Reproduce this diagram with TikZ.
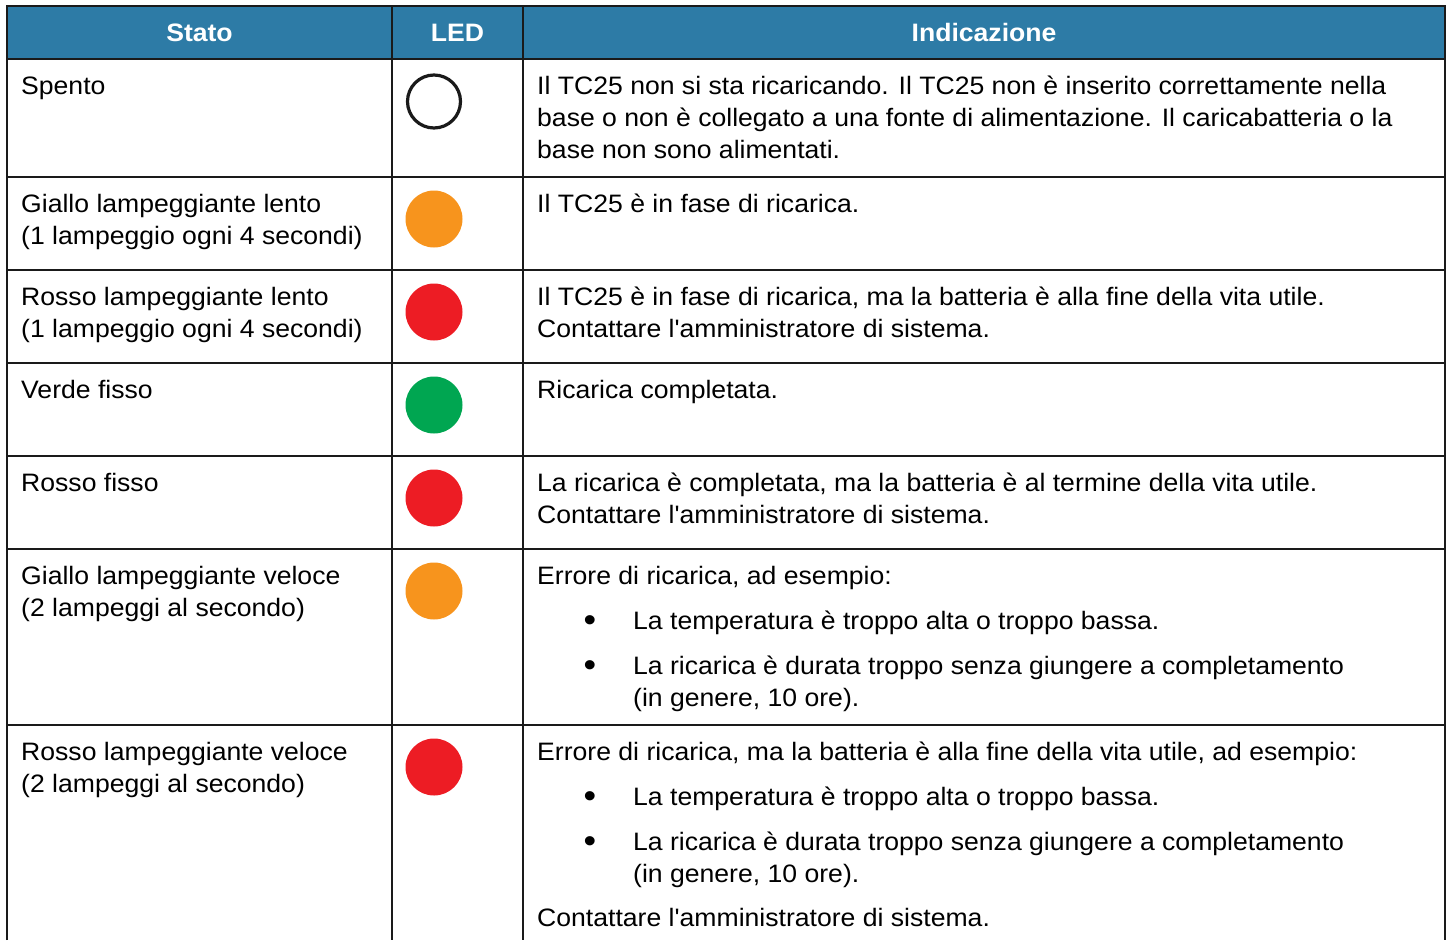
\documentclass[tikz,border=0pt]{standalone}
\usepackage{fontspec}
\newfontfamily\arialf{Liberation Sans}[FakeStretch=1.055]
\definecolor{hdr}{RGB}{45,123,166}
\definecolor{grid}{RGB}{26,26,26}
\definecolor{ledorange}{RGB}{247,148,29}
\definecolor{ledred}{RGB}{237,28,36}
\definecolor{ledgreen}{RGB}{0,166,81}
\tikzset{
  txt/.style={anchor=base west, inner sep=0pt, font=\arialf\fontsize{25.2}{32}\selectfont, text=black, yshift=-1pt},
  hd/.style={anchor=base, inner sep=0pt, font=\arialf\fontsize{25.2}{32}\selectfont\bfseries, text=white},
  blt/.style={anchor=base, inner sep=0pt, font=\arialf\fontsize{34}{32}\selectfont, text=black, yshift=-1pt},
  gridline/.style={draw=grid, line width=1.4pt},
  led/.style={circle, minimum size=57pt, inner sep=0pt},
}
\begin{document}
\begin{tikzpicture}[x=1pt,y=-1pt]
\useasboundingbox (0,0) rectangle (1448,940);
% header
\fill[hdr] (7,6) rectangle (1445,59);
% grid
\draw[gridline] (7,940) -- (7,6) -- (1445,6) -- (1445,940);
\foreach \yy in {59,177,270,363,456,549,725}
  \draw[gridline] (7,\yy) -- (1445,\yy);
\draw[gridline] (392,6) -- (392,940);
\draw[gridline] (523,6) -- (523,940);
% header text
\node[hd] (h1) at (199.5,41) {Stato};
\node[hd] (h2) at (457.5,41) {LED};
\node[hd] (h3) at (984,41) {Indicazione};
% LEDs
\node[led, draw=grid, line width=3.2pt, minimum size=53pt] (l1) at (434,101.5) {};
\node[led, fill=ledorange] (l2) at (434,219) {};
\node[led, fill=ledred] (l3) at (434,312) {};
\node[led, fill=ledgreen] (l4) at (434,405) {};
\node[led, fill=ledred] (l5) at (434,498) {};
\node[led, fill=ledorange] (l6) at (434,591) {};
\node[led, fill=ledred] (l7) at (434,767) {};
% row 1
\node[txt] (s1) at (21,93) {Spento};
\node[txt] (d1a) at (537,93) {Il TC25 non si sta ricaricando. Il TC25 non è inserito correttamente nella};
\node[txt] (d1b) at (537,125) {base o non è collegato a una fonte di alimentazione. Il caricabatteria o la};
\node[txt] (d1c) at (537,157) {base non sono alimentati.};
% row 2
\node[txt] (s2a) at (21,211) {Giallo lampeggiante lento};
\node[txt] (s2b) at (21,243) {(1 lampeggio ogni 4 secondi)};
\node[txt] (d2) at (537,211) {Il TC25 è in fase di ricarica.};
% row 3
\node[txt] (s3a) at (21,304) {Rosso lampeggiante lento};
\node[txt] (s3b) at (21,336) {(1 lampeggio ogni 4 secondi)};
\node[txt] (d3a) at (537,304) {Il TC25 è in fase di ricarica, ma la batteria è alla fine della vita utile.};
\node[txt] (d3b) at (537,336) {Contattare l'amministratore di sistema.};
% row 4
\node[txt] (s4) at (21,397) {Verde fisso};
\node[txt] (d4) at (537,397) {Ricarica completata.};
% row 5
\node[txt] (s5) at (21,490) {Rosso fisso};
\node[txt] (d5a) at (537,490) {La ricarica è completata, ma la batteria è al termine della vita utile.};
\node[txt] (d5b) at (537,522) {Contattare l'amministratore di sistema.};
% row 6
\node[txt] (s6a) at (21,583) {Giallo lampeggiante veloce};
\node[txt] (s6b) at (21,615) {(2 lampeggi al secondo)};
\node[txt] (d6a) at (537,583) {Errore di ricarica, ad esempio:};
\node[blt] (b6a) at (590,630) {•};
\node[txt] (d6b) at (633,628) {La temperatura è troppo alta o troppo bassa.};
\node[blt] (b6b) at (590,675) {•};
\node[txt] (d6c) at (633,673) {La ricarica è durata troppo senza giungere a completamento};
\node[txt] (d6d) at (633,705) {(in genere, 10 ore).};
% row 7
\node[txt] (s7a) at (21,759) {Rosso lampeggiante veloce};
\node[txt] (s7b) at (21,791) {(2 lampeggi al secondo)};
\node[txt] (d7a) at (537,759) {Errore di ricarica, ma la batteria è alla fine della vita utile, ad esempio:};
\node[blt] (b7a) at (590,806) {•};
\node[txt] (d7b) at (633,804) {La temperatura è troppo alta o troppo bassa.};
\node[blt] (b7b) at (590,851) {•};
\node[txt] (d7c) at (633,849) {La ricarica è durata troppo senza giungere a completamento};
\node[txt] (d7d) at (633,881) {(in genere, 10 ore).};
\node[txt] (d7e) at (537,925) {Contattare l'amministratore di sistema.};
\end{tikzpicture}
\end{document}
